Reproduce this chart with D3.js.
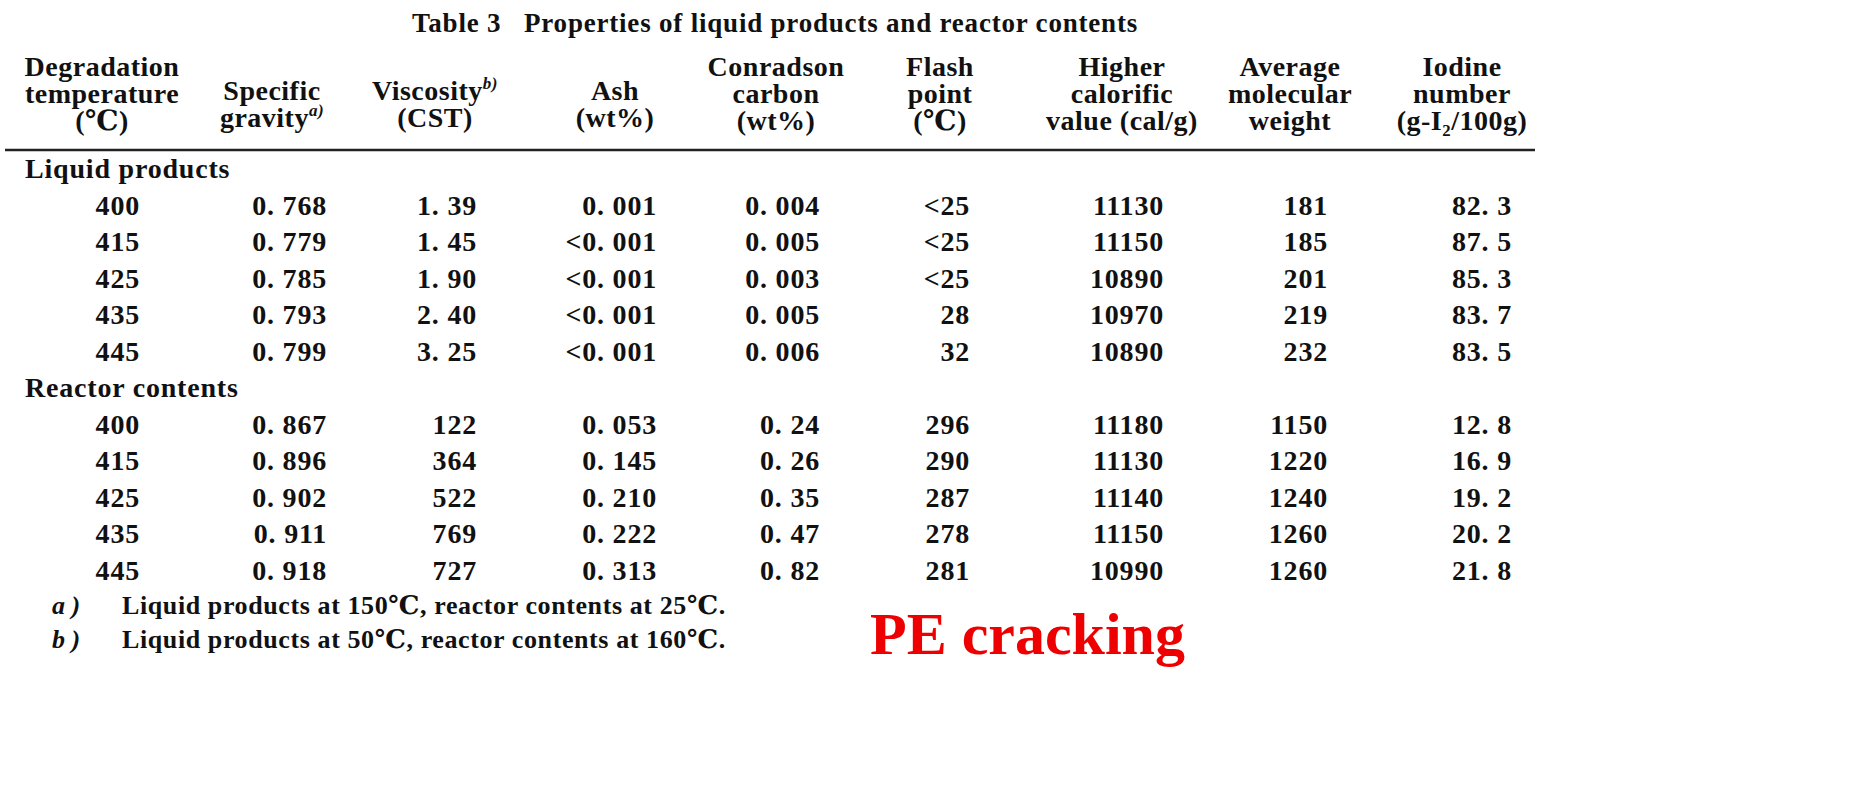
<!DOCTYPE html>
<html><head><meta charset="utf-8">
<script src="https://cdn.jsdelivr.net/npm/d3@7/dist/d3.min.js"></script>
<style>body{margin:0;background:#fff}svg text{font-family:"Liberation Serif","DejaVu Serif",serif;fill:#111}</style>
</head><body><svg id="c" width="1871" height="805"></svg>
<script>
const title = "Table 3   Properties of liquid products and reactor contents";
const headers = [
 ["Degradation","temperature","(℃)"],
 ["Specific","gravity^a)"],
 ["Viscosity^b)","(CST)"],
 ["Ash","(wt%)"],
 ["Conradson","carbon","(wt%)"],
 ["Flash","point","(℃)"],
 ["Higher","calorific","value (cal/g)"],
 ["Average","molecular","weight"],
 ["Iodine","number","(g-I₂/100g)"]
];
const groups = ["Liquid products","Reactor contents"];
const temps = ["400","415","425","435","445"];
const liquidRows = [
 ["0. 768","1. 39","0. 001","0. 004","<25","11130","181","82. 3"],
 ["0. 779","1. 45","<0. 001","0. 005","<25","11150","185","87. 5"],
 ["0. 785","1. 90","<0. 001","0. 003","<25","10890","201","85. 3"],
 ["0. 793","2. 40","<0. 001","0. 005","28","10970","219","83. 7"],
 ["0. 799","3. 25","<0. 001","0. 006","32","10890","232","83. 5"]
];
const reactorRows = [
 ["0. 867","122","0. 053","0. 24","296","11180","1150","12. 8"],
 ["0. 896","364","0. 145","0. 26","290","11130","1220","16. 9"],
 ["0. 902","522","0. 210","0. 35","287","11140","1240","19. 2"],
 ["0. 911","769","0. 222","0. 47","278","11150","1260","20. 2"],
 ["0. 918","727","0. 313","0. 82","281","10990","1260","21. 8"]
];
const footnotes = [["a )","Liquid products at 150℃, reactor contents at 25℃."],["b )","Liquid products at 50℃, reactor contents at 160℃."]];
const label = "PE cracking";

const svg = d3.select("#c");
const hx = d3.scaleOrdinal().domain(d3.range(9)).range([102,272,435,615,776,940,1122,1290,1462]);
const vx = d3.scaleOrdinal().domain(d3.range(9)).range([140,327,477,657,820,970,1164,1328,1512]);
const rowY = d3.scalePoint().domain(d3.range(12)).range([168,570]);
const fs = 28;
svg.append("text").attr("x",775).attr("y",32).attr("text-anchor","middle").attr("font-size",27).attr("font-weight","bold").attr("letter-spacing",0.8).attr("xml:space","preserve").text(title);
headers.forEach((h,i)=>{
  const n=h.length, top = n===3?76:100;
  h.forEach((line,j)=>{
    const t=svg.append("text").attr("x",hx(i)).attr("y",top+j*27).attr("text-anchor","middle").attr("font-size",fs).attr("font-weight","bold").attr("letter-spacing",0.5);
    const m=line.match(/^(.*)\^(.*)$/);
    if(m){t.append("tspan").text(m[1]);t.append("tspan").attr("font-size",17).attr("dy",-11).attr("font-style","italic").text(m[2]);}
    else t.text(line);
  });
});
svg.append("line").attr("x1",5).attr("x2",1535).attr("y1",150).attr("y2",150).attr("stroke","#222").attr("stroke-width",2.5);
const body=[[groups[0]],...liquidRows.map((r,i)=>[temps[i],...r]),[groups[1]],...reactorRows.map((r,i)=>[temps[i],...r])];
body.forEach((r,ri)=>{
  const y=rowY(ri)+10;
  if(r.length===1){svg.append("text").attr("x",25).attr("y",y).attr("font-size",fs).attr("font-weight","bold").attr("letter-spacing",0.8).text(r[0]);return;}
  r.forEach((v,ci)=>svg.append("text").attr("x",vx(ci)).attr("y",y).attr("text-anchor","end").attr("font-size",fs).attr("font-weight","bold").attr("letter-spacing",0.8).attr("xml:space","preserve").text(v));
});
footnotes.forEach((f,i)=>{
  const y=614+i*34;
  svg.append("text").attr("x",52).attr("y",y).attr("font-size",26).attr("font-weight","bold").attr("font-style","italic").text(f[0]);
  svg.append("text").attr("x",122).attr("y",y).attr("font-size",26).attr("font-weight","bold").attr("letter-spacing",0.6).text(f[1]);
});
svg.append("text").attr("x",870).attr("y",654).attr("font-size",60).attr("font-weight","bold").style("fill","#ee0000").text(label);
</script></body></html>
